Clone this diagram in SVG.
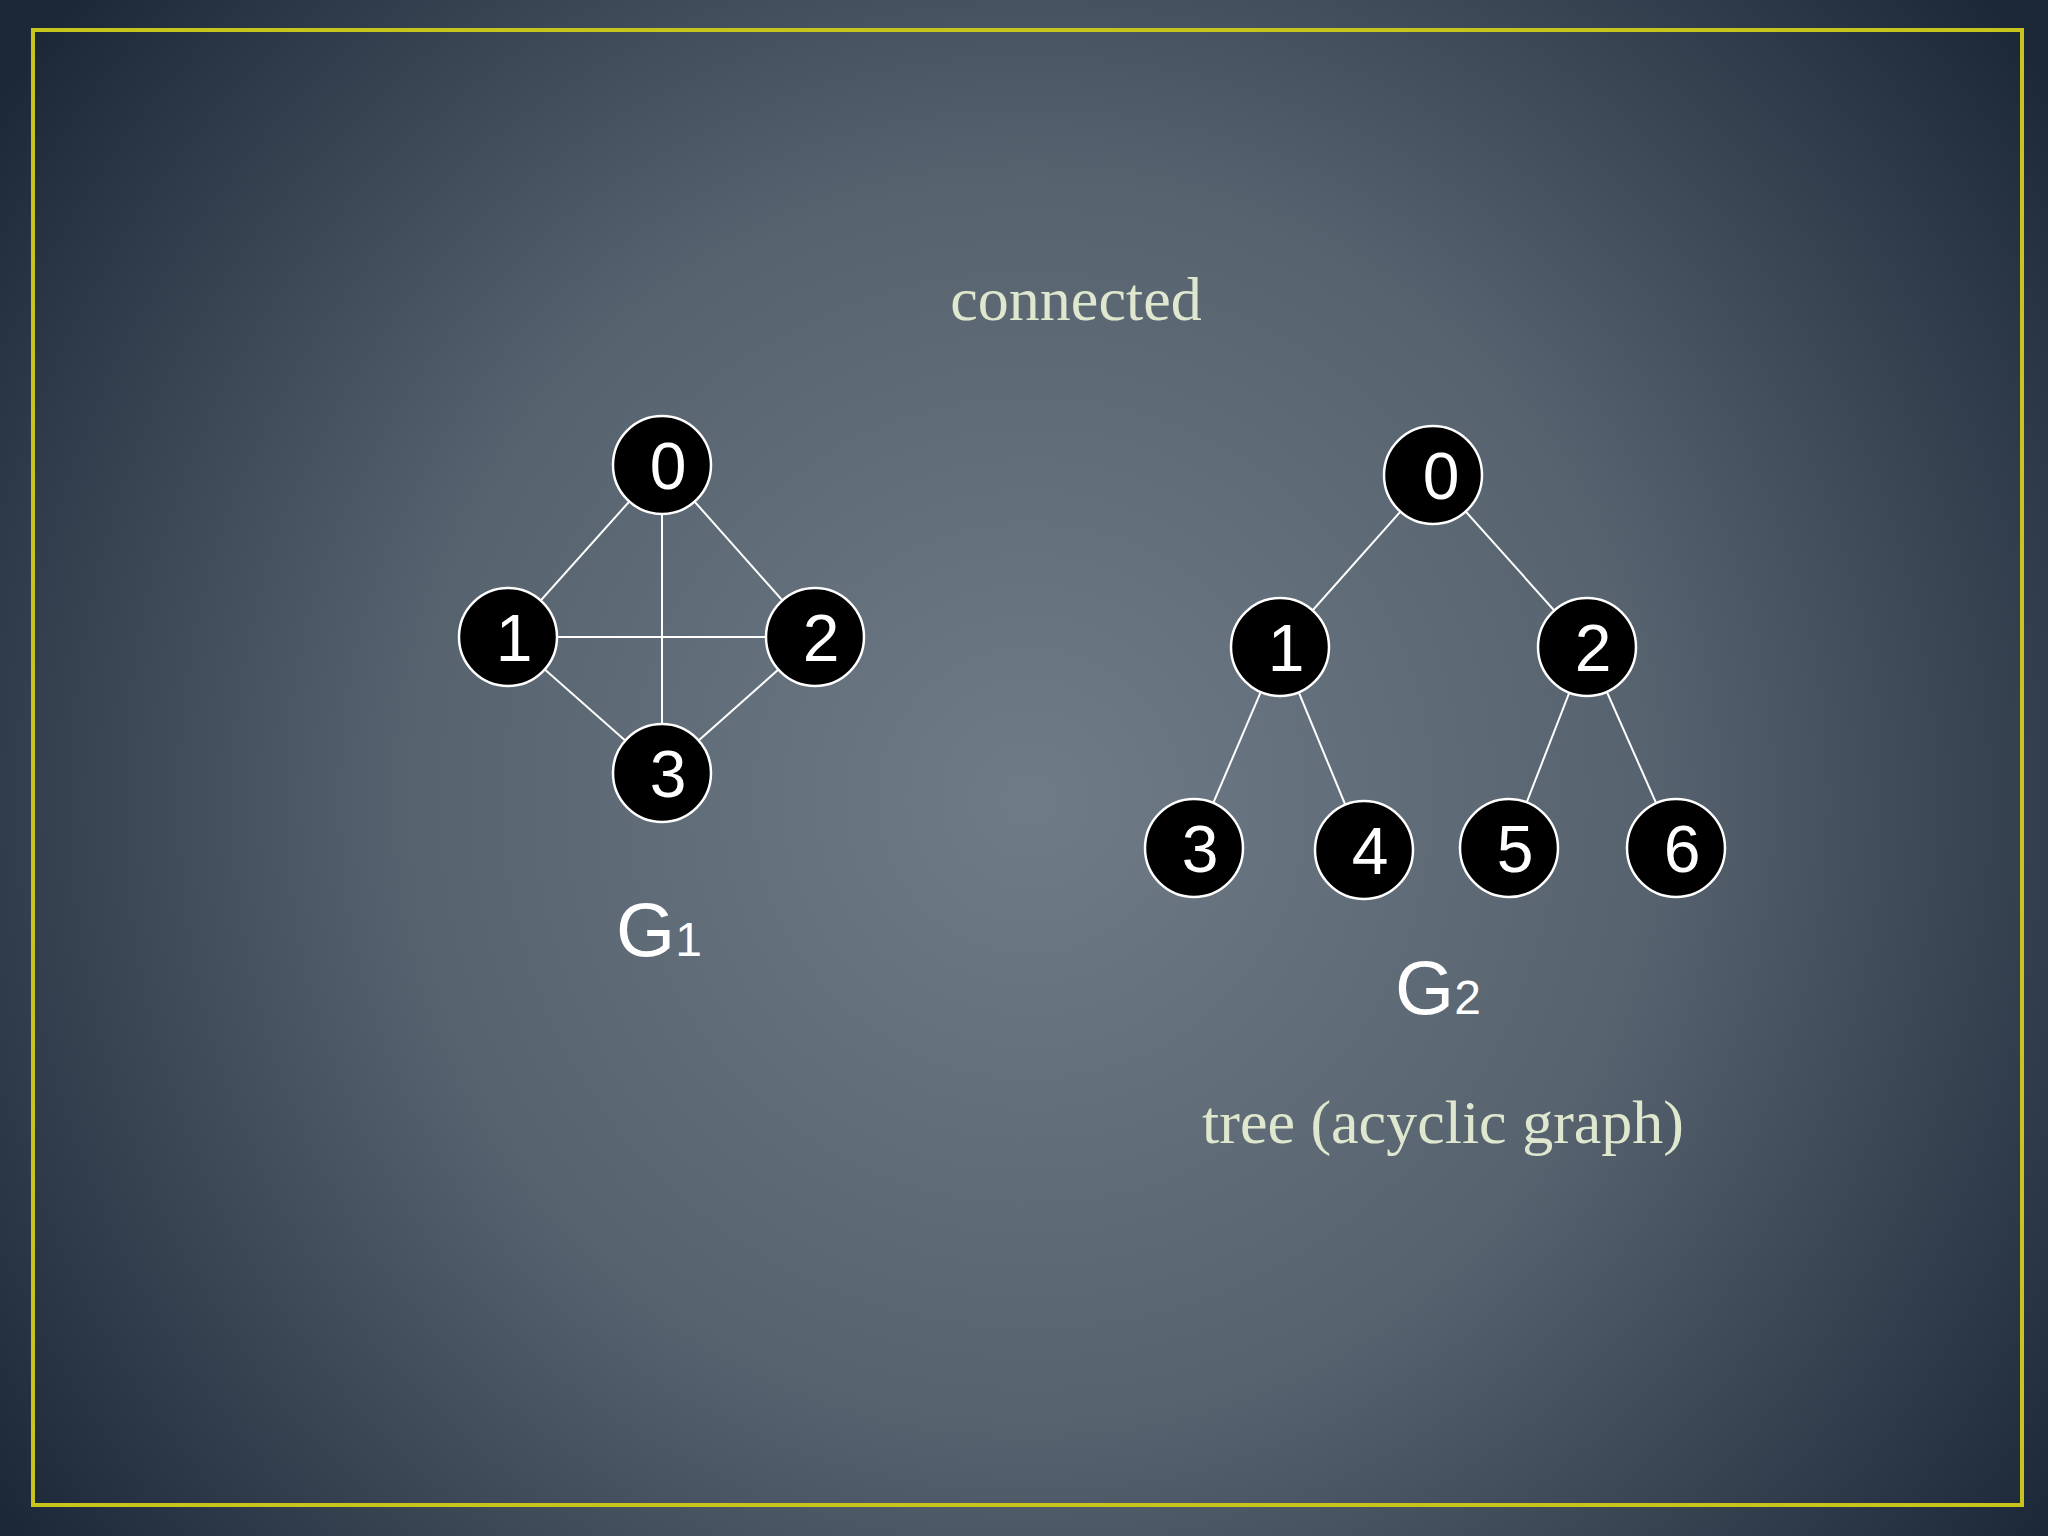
<svg xmlns="http://www.w3.org/2000/svg" width="2048" height="1536" viewBox="0 0 2048 1536">
<defs>
<radialGradient id="bg" cx="1030" cy="800" r="1250" gradientUnits="userSpaceOnUse">
<stop offset="0" stop-color="#6f7b87"/>
<stop offset="0.5" stop-color="#56626e"/>
<stop offset="1" stop-color="#1c2838"/>
</radialGradient>
<style>
.n circle{fill:#000;stroke:#fff;stroke-width:2.5}
.n text{fill:#fff;font-family:"Liberation Sans",Arial,sans-serif;font-size:66px;text-anchor:middle}
.e line{stroke:#fff;stroke-width:2}
.cap{fill:#dfe8cf;font-family:"Liberation Serif","Times New Roman",serif;font-size:62px;text-anchor:middle}
.g{fill:#fff;font-family:"Liberation Sans",Arial,sans-serif;font-size:76px}
</style>
</defs>
<rect width="2048" height="1536" fill="url(#bg)"/>
<rect x="33" y="30" width="1989" height="1475" fill="none" stroke="#c8c41e" stroke-width="4"/>
<text class="cap" x="1076" y="320">connected</text>
<g class="e" id="edges">
<line x1="662" y1="465" x2="508" y2="637"/>
<line x1="662" y1="465" x2="815" y2="637"/>
<line x1="662" y1="465" x2="662" y2="773"/>
<line x1="508" y1="637" x2="815" y2="637"/>
<line x1="508" y1="637" x2="662" y2="773"/>
<line x1="815" y1="637" x2="662" y2="773"/>
<line x1="1433" y1="475" x2="1280" y2="647"/>
<line x1="1433" y1="475" x2="1587" y2="647"/>
<line x1="1280" y1="647" x2="1194" y2="848"/>
<line x1="1280" y1="647" x2="1364" y2="850"/>
<line x1="1587" y1="647" x2="1509" y2="848"/>
<line x1="1587" y1="647" x2="1676" y2="848"/>
</g>
<g class="n" id="g1n0"><circle cx="662" cy="465" r="49"/><text x="668" y="489">0</text></g>
<g class="n" id="g1n1"><circle cx="508" cy="637" r="49"/><text x="514" y="661">1</text></g>
<g class="n" id="g1n2"><circle cx="815" cy="637" r="49"/><text x="821" y="661">2</text></g>
<g class="n" id="g1n3"><circle cx="662" cy="773" r="49"/><text x="668" y="797">3</text></g>
<g class="n" id="g2n0"><circle cx="1433" cy="475" r="49"/><text x="1441" y="499">0</text></g>
<g class="n" id="g2n1"><circle cx="1280" cy="647" r="49"/><text x="1286" y="671">1</text></g>
<g class="n" id="g2n2"><circle cx="1587" cy="647" r="49"/><text x="1593" y="671">2</text></g>
<g class="n" id="g2n3"><circle cx="1194" cy="848" r="49"/><text x="1200" y="872">3</text></g>
<g class="n" id="g2n4"><circle cx="1364" cy="850" r="49"/><text x="1370" y="874">4</text></g>
<g class="n" id="g2n5"><circle cx="1509" cy="848" r="49"/><text x="1515" y="872">5</text></g>
<g class="n" id="g2n6"><circle cx="1676" cy="848" r="49"/><text x="1682" y="872">6</text></g>
<text class="g" x="616" y="956">G<tspan font-size="48">1</tspan></text>
<text class="g" x="1395" y="1014">G<tspan font-size="48">2</tspan></text>
<text class="cap" x="1443" y="1143">tree (acyclic graph)</text>
</svg>
